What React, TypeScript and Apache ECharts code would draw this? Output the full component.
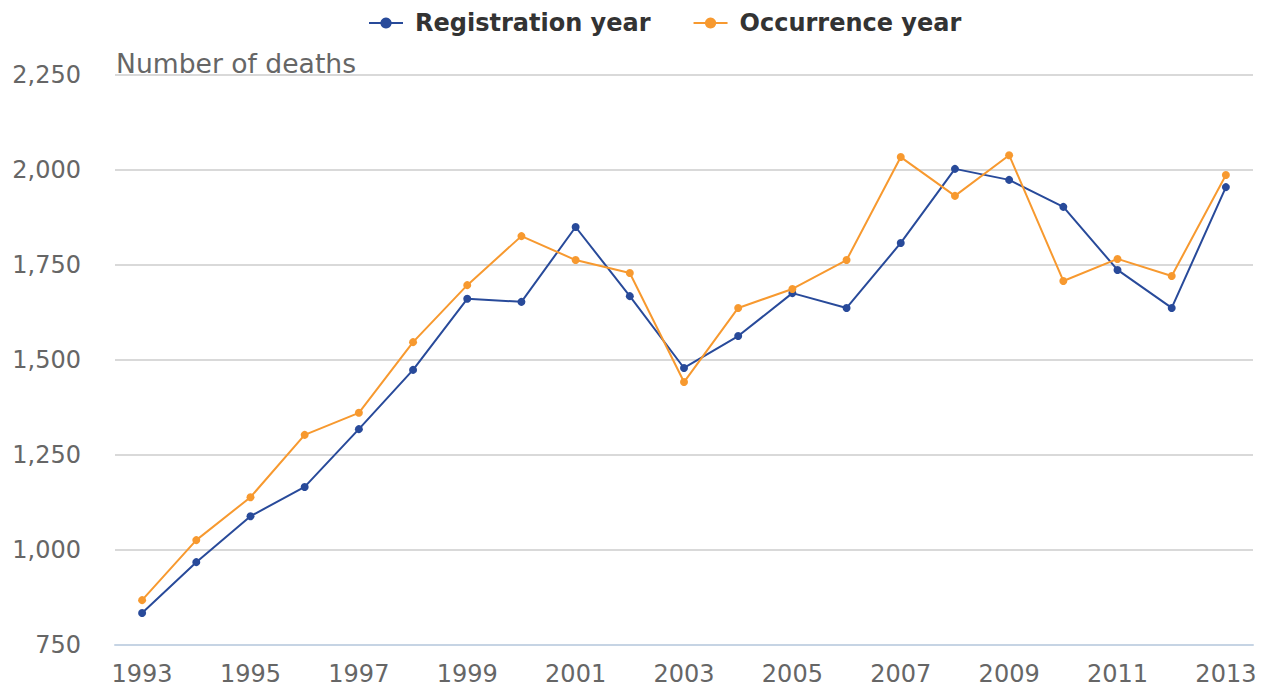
import React, { useEffect, useRef } from "react";
import * as echarts from "echarts";

const years = [
  "1993", "1994", "1995", "1996", "1997", "1998", "1999", "2000", "2001", "2002",
  "2003", "2004", "2005", "2006", "2007", "2008", "2009", "2010", "2011", "2012", "2013",
];
const registrationYear = [
  834, 968, 1089, 1166, 1318, 1474, 1661, 1653, 1850, 1668,
  1479, 1563, 1676, 1637, 1808, 2003, 1974, 1903, 1737, 1637, 1955,
];
const occurrenceYear = [
  868, 1026, 1139, 1303, 1361, 1547, 1697, 1826, 1763, 1729,
  1442, 1637, 1687, 1763, 2034, 1932, 2039, 1708, 1766, 1721, 1987,
];
const yTicks = { min: 750, max: 2250, interval: 250 };

const FONT = "DejaVu Sans";

export default function App() {
  const ref = useRef<HTMLDivElement>(null);
  useEffect(() => {
    document.body.style.margin = "0";
    if (!ref.current) return;
    const chart = echarts.init(ref.current, null, { renderer: "svg" });
    chart.setOption({
      animation: false,
      textStyle: { fontFamily: FONT },
      legend: {
        top: 11,
        left: 368,
        padding: 0,
        itemWidth: 34,
        itemHeight: 14,
        itemGap: 42,
        textStyle: {
          fontFamily: FONT,
          fontSize: 24,
          fontWeight: "bold",
          color: "#333",
          padding: [0, 0, 0, 7],
        },
        data: ["Registration year", "Occurrence year"],
      },
      graphic: [
        {
          type: "text",
          left: 116,
          top: 50,
          style: { text: "Number of deaths", fontFamily: FONT, fontSize: 26.6, fill: "#666" },
        },
      ],
      grid: { left: 115, right: 15, top: 75, bottom: 43, containLabel: false },
      xAxis: {
        type: "category",
        data: years,
        boundaryGap: true,
        axisLine: { lineStyle: { color: "#c6d4e4", width: 2 } },
        axisTick: {
          alignWithLabel: true,
          interval: 1,
          length: 19,
          lineStyle: { color: "#c6d4e4", width: 2 },
        },
        axisLabel: { interval: 1, fontSize: 24, color: "#666", fontFamily: FONT, margin: 17 },
      },
      yAxis: {
        type: "value",
        min: yTicks.min,
        max: yTicks.max,
        interval: yTicks.interval,
        axisLine: { show: false },
        axisTick: { show: false },
        splitLine: { lineStyle: { color: "#d9d9d9", width: 2 } },
        axisLabel: {
          fontSize: 24,
          color: "#666",
          fontFamily: FONT,
          margin: 34,
          formatter: (v: number) => v.toLocaleString("en-US"),
        },
      },
      series: [
        {
          name: "Registration year",
          type: "line",
          data: registrationYear,
          symbol: "circle",
          symbolSize: 8,
          itemStyle: { color: "#284a9a" },
          lineStyle: { width: 2, color: "#284a9a" },
        },
        {
          name: "Occurrence year",
          type: "line",
          data: occurrenceYear,
          symbol: "circle",
          symbolSize: 8,
          itemStyle: { color: "#f7992f" },
          lineStyle: { width: 2, color: "#f7992f" },
        },
      ],
    });
    return () => chart.dispose();
  }, []);
  return <div ref={ref} style={{ width: 1268, height: 688 }} />;
}
